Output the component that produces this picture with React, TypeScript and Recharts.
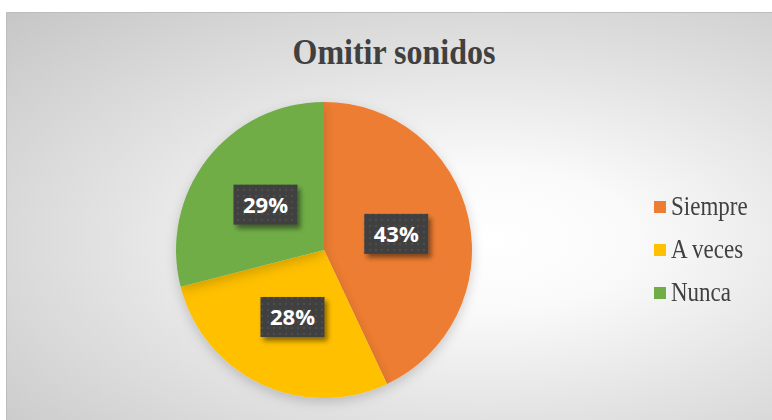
import { PieChart, Pie, Cell, Legend } from "recharts";

const categories = ["Siempre", "A veces", "Nunca"];
const values = [43, 28, 29];
const colors = ["#ED7D31", "#FFC000", "#70AD47"];

const data = categories.map((name, i) => ({ name, value: values[i] }));

const RAD = Math.PI / 180;
const SERIF = "Liberation Serif, Times New Roman, serif";

function PctLabel(props: any) {
  const { cx, cy, midAngle, outerRadius, percent } = props;
  const r = outerRadius * 0.5;
  const x = cx + r * Math.cos(-midAngle * RAD);
  const y = cy + r * Math.sin(-midAngle * RAD);
  const w = 64;
  const h = 40;
  return (
    <g>
      <rect
        x={x - w / 2}
        y={y - h / 2}
        width={w}
        height={h}
        fill="url(#dots)"
        filter="url(#boxShadow)"
      />
      <text
        x={x}
        y={y + 8}
        textAnchor="middle"
        fill="#ffffff"
        fontFamily="'Open Sans', sans-serif"
        fontWeight={700}
        fontSize={22}
      >
        {Math.round(percent * 100) + "%"}
      </text>
    </g>
  );
}

// legend drawn in the category order (recharts sorts its payload)
function LegendList() {
  return (
    <div style={{ fontFamily: SERIF }}>
      {categories.map((name, i) => (
        <div
          key={name}
          style={{ display: "flex", alignItems: "center", height: 43 }}
        >
          <span
            style={{
              width: 12,
              height: 12,
              background: colors[i],
              display: "inline-block",
              marginRight: 5,
            }}
          />
          <span
            style={{
              fontFamily: SERIF,
              fontSize: 23,
              color: "#404040",
              display: "inline-block",
              transform: "scaleY(1.18)",
              lineHeight: 1,
            }}
          >
            {name}
          </span>
        </div>
      ))}
    </div>
  );
}

export default function App() {
  return (
    <div
      style={{
        position: "absolute",
        left: 0,
        top: 0,
        width: 772,
        height: 420,
        background: "#ffffff",
        overflow: "hidden",
      }}
    >
      <div
        style={{
          position: "absolute",
          left: 6,
          top: 12,
          width: 770,
          height: 412,
          borderTop: "1px solid #bdbdbd",
          borderLeft: "1px solid #bdbdbd",
          background:
            "radial-gradient(ellipse at 62% 55%, #ffffff 0%, #fafafa 22%, #e3e3e3 55%, #c6c6c6 100%)",
        }}
      >
        <svg
          width={770}
          height={80}
          style={{ position: "absolute", left: 0, top: 0 }}
        >
          <text
            x={387}
            y={51}
            textAnchor="middle"
            fill="#404040"
            fontFamily={SERIF}
            fontWeight={700}
            fontSize={32}
            transform="translate(0,51) scale(1,1.13) translate(0,-51)"
          >
            Omitir sonidos
          </text>
        </svg>
        <PieChart
          width={770}
          height={412}
          margin={{ top: 0, right: 0, bottom: 0, left: 0 }}
          style={{ position: "absolute", left: 0, top: 0 }}
        >
          <defs>
            <pattern id="dots" width="6" height="6" patternUnits="userSpaceOnUse">
              <rect width="6" height="6" fill="#3f3f3f" />
              <rect x="2" y="2" width="2" height="2" fill="#4d4d4d" />
            </pattern>
            <filter id="boxShadow" x="-20%" y="-20%" width="150%" height="160%">
              <feDropShadow dx="3" dy="4" stdDeviation="2.5" floodColor="#000" floodOpacity="0.45" />
            </filter>
            <filter id="pieShadow" x="-20%" y="-20%" width="140%" height="150%">
              <feDropShadow dx="0" dy="4" stdDeviation="6" floodColor="#000" floodOpacity="0.18" />
            </filter>
          </defs>
          <Pie
            data={data}
            dataKey="value"
            nameKey="name"
            cx={317}
            cy={237}
            outerRadius={148}
            startAngle={90}
            endAngle={-270}
            stroke="none"
            label={PctLabel}
            labelLine={false}
            isAnimationActive={false}
            style={{ filter: "url(#pieShadow)" }}
          >
            {data.map((d, i) => (
              <Cell key={d.name} fill={colors[i]} />
            ))}
          </Pie>
          <Legend
            layout="vertical"
            content={LegendList}
            wrapperStyle={{ position: "absolute", left: 647, top: 172, width: 120 }}
          />
        </PieChart>
      </div>
    </div>
  );
}
